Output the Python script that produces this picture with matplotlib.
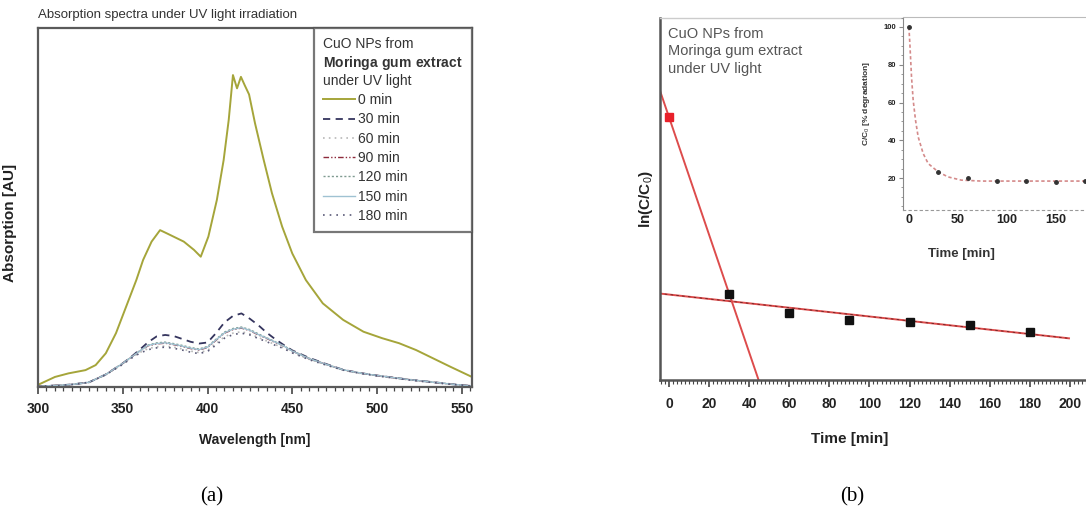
import numpy as np
import matplotlib
matplotlib.use("Agg")
import matplotlib.pyplot as plt
from matplotlib.ticker import MultipleLocator

plt.rcParams['font.family'] = ['Liberation Sans', 'DejaVu Sans']
plt.rcParams['mathtext.fontset'] = 'custom'
plt.rcParams['mathtext.bf'] = 'Liberation Sans:bold'
plt.rcParams['mathtext.rm'] = 'Liberation Sans'

# ---- (a) absorption spectra ----
wl0 = [300, 310, 318, 328, 334, 340, 346, 352, 358, 362, 367, 372, 376, 386, 392, 396,
       400.5, 405.5, 409.5, 412.5, 415, 417.4, 419.7, 422, 424.5, 428, 433, 438, 444,
       450, 458, 468, 480, 492, 503, 513, 523, 533, 543, 556]
abs0 = [0.006, 0.028, 0.038, 0.047, 0.061, 0.094, 0.150, 0.224, 0.298, 0.354, 0.405,
        0.437, 0.428, 0.405, 0.382, 0.363, 0.419, 0.521, 0.632, 0.744, 0.869, 0.832,
        0.864, 0.840, 0.815, 0.735, 0.635, 0.540, 0.447, 0.372, 0.298, 0.233, 0.187,
        0.154, 0.136, 0.122, 0.103, 0.080, 0.057, 0.028]

wl = [300, 310, 320, 330, 340, 350, 355, 360, 365, 370, 375, 380, 385, 390, 395, 400,
      405, 410, 415, 420, 425, 430, 435, 440, 445, 450, 460, 470, 480, 490, 500, 510,
      520, 530, 540, 550, 556]
abs30 = [0.002, 0.004, 0.007, 0.013, 0.035, 0.066, 0.084, 0.104, 0.125, 0.141, 0.145,
         0.142, 0.134, 0.126, 0.121, 0.124, 0.150, 0.180, 0.198, 0.205, 0.190, 0.172,
         0.151, 0.133, 0.117, 0.102, 0.081, 0.064, 0.048, 0.039, 0.032, 0.026, 0.020,
         0.015, 0.010, 0.005, 0.003]
abs60 = [0.002, 0.004, 0.007, 0.013, 0.034, 0.064, 0.081, 0.096, 0.107, 0.112, 0.114,
         0.111, 0.106, 0.100, 0.096, 0.102, 0.121, 0.140, 0.150, 0.154, 0.148, 0.138,
         0.128, 0.118, 0.109, 0.096, 0.077, 0.062, 0.047, 0.038, 0.031, 0.025, 0.019,
         0.014, 0.009, 0.005, 0.003]
abs90 = [0.002, 0.004, 0.007, 0.013, 0.035, 0.066, 0.083, 0.100, 0.115, 0.120, 0.122,
         0.118, 0.113, 0.107, 0.103, 0.110, 0.130, 0.150, 0.160, 0.164, 0.157, 0.145,
         0.135, 0.124, 0.114, 0.100, 0.079, 0.063, 0.048, 0.039, 0.032, 0.026, 0.020,
         0.015, 0.010, 0.005, 0.003]
abs120 = [0.002, 0.004, 0.007, 0.013, 0.035, 0.066, 0.084, 0.101, 0.117, 0.123, 0.125,
          0.121, 0.116, 0.110, 0.106, 0.113, 0.133, 0.153, 0.163, 0.167, 0.160, 0.148,
          0.137, 0.126, 0.115, 0.101, 0.080, 0.063, 0.048, 0.039, 0.032, 0.026, 0.020,
          0.015, 0.010, 0.005, 0.003]
abs150 = [0.002, 0.004, 0.007, 0.013, 0.035, 0.066, 0.083, 0.100, 0.116, 0.121, 0.123,
          0.119, 0.114, 0.108, 0.104, 0.111, 0.131, 0.151, 0.161, 0.165, 0.158, 0.146,
          0.136, 0.125, 0.114, 0.100, 0.079, 0.063, 0.048, 0.039, 0.032, 0.026, 0.020,
          0.015, 0.010, 0.005, 0.003]
abs180 = [0.002, 0.004, 0.007, 0.013, 0.034, 0.063, 0.080, 0.094, 0.104, 0.109, 0.111,
          0.108, 0.103, 0.097, 0.093, 0.099, 0.117, 0.136, 0.146, 0.150, 0.145, 0.135,
          0.126, 0.116, 0.107, 0.095, 0.076, 0.061, 0.047, 0.038, 0.031, 0.025, 0.019,
          0.014, 0.009, 0.005, 0.003]

# ---- (b) kinetics ----
t_min = [0, 30, 60, 90, 120, 150, 180]
ln_ratio = [0.0, -1.47, -1.63, -1.69, -1.71, -1.73, -1.79]
pct_left = [100, 23.3, 19.8, 18.5, 18.5, 17.7, 18.3]
curve_t = [0, 1, 2.7, 4.4, 6.8, 9.5, 14.6, 19.7, 29.9, 40, 53.5, 74, 100, 140, 181]
curve_pct = [100, 91.2, 73.5, 61.2, 50.6, 41.8, 33.0, 27.7, 23.3, 20.6, 18.9, 18.4,
             18.4, 18.4, 18.4]

fig = plt.figure(figsize=(10.86, 5.21), dpi=100)

# ================= panel (a) =================
ax = fig.add_axes([0.035, 0.2572, 0.3996, 0.689])
ax.plot(wl0, abs0, color='#a5a53a', lw=1.4, label='0 min')
ax.plot(wl, abs30, color='#35355e', lw=1.3, ls=(0, (4, 3)), label='30 min')
ax.plot(wl, abs60, color='#b8b8b8', lw=1.2, ls=(0, (1, 2.5)), label='60 min')
ax.plot(wl, abs90, color='#8e2a3c', lw=1.0, ls=(0, (4, 1.5, 1, 1.5, 1, 1.5)), label='90 min')
ax.plot(wl, abs120, color='#7f9a90', lw=1.0, ls=(0, (1.5, 1.5)), label='120 min')
ax.plot(wl, abs150, color='#9fc2d2', lw=1.0, label='150 min')
ax.plot(wl, abs180, color='#5a5a78', lw=1.2, ls=(0, (1, 3)), label='180 min')

ax.set_xlim(300, 556)
ax.set_ylim(0, 1)
ax.set_yticks([])
ax.xaxis.set_major_locator(MultipleLocator(50))
ax.xaxis.set_minor_locator(MultipleLocator(5))
ax.tick_params(axis='x', which='major', direction='out', length=5, width=1.2,
               colors='#444444', labelcolor='#222222', pad=6)
ax.tick_params(axis='x', which='minor', direction='out', length=3, width=0.9, colors='#444444')
for lab in ax.get_xticklabels():
    lab.set_fontweight('bold')
    lab.set_fontsize(10)
for s in ax.spines.values():
    s.set_color('#5a5a5a')
    s.set_linewidth(1.6)

ax.set_xlabel('Wavelength [nm]', fontsize=10, fontweight='bold', color='#222222')
ax.xaxis.set_label_coords(0.5, -0.127)
ax.set_ylabel('Absorption [AU]', fontsize=11, fontweight='bold', color='#222222')
ax.yaxis.set_label_coords(-0.048, 0.457)
ax.text(0.0, 1.02, 'Absorption spectra under UV light irradiation', transform=ax.transAxes,
        fontsize=9.5, color='#333333', ha='left', va='bottom')

leg = ax.legend(loc='upper right', bbox_to_anchor=(1.0, 1.0), borderaxespad=0,
                fontsize=10, frameon=True, fancybox=False, handlelength=2.3,
                handletextpad=0.2, labelspacing=0.38, borderpad=0.65,
                title='CuO NPs from\n$\\bf{Moringa\\ gum\\ extract}$\nunder UV light',
                title_fontsize=10, alignment='left')
leg.get_frame().set_edgecolor('#555555')
leg.get_frame().set_linewidth(1.6)
for txt in leg.get_texts():
    txt.set_color('#333333')
leg.get_title().set_color('#333333')

# ================= panel (b) =================
bx = fig.add_axes([0.6077, 0.2706, 0.3923, 0.6948])
steep = np.polyfit(t_min[:2], ln_ratio[:2], 1)
flat = np.polyfit(t_min[1:], ln_ratio[1:], 1)
xs = np.array([-5, 60])
bx.plot(xs, np.polyval(steep, xs), color='#dd4c4c', lw=1.4)
xf = np.array([-5, 199.5])
bx.plot(xf, np.polyval(flat, xf), color='#dd4c4c', lw=1.4)
bx.plot(xf, np.polyval(flat, xf), color='#6a2020', lw=0.6, ls=(0, (3, 4)))
bx.plot(t_min[1:], ln_ratio[1:], 's', color='#111111', ms=5.5)
bx.plot(t_min[:1], ln_ratio[:1], 's', color='#e8202a', ms=5.5)

bx.set_xlim(-4.5, 208)
bx.set_ylim(-2.19, 0.825)
bx.set_yticks([])
bx.xaxis.set_major_locator(MultipleLocator(20))
bx.xaxis.set_minor_locator(MultipleLocator(2))
bx.tick_params(axis='x', which='major', direction='out', length=5, width=1.2,
               colors='#444444', labelcolor='#222222', pad=7)
bx.tick_params(axis='x', which='minor', direction='out', length=3, width=0.8, colors='#444444')
for lab in bx.get_xticklabels():
    lab.set_fontweight('bold')
    lab.set_fontsize(10)
bx.spines['right'].set_visible(False)
bx.spines['top'].set_color('#cccccc')
bx.spines['top'].set_linewidth(1.0)
bx.spines['left'].set_color('#555555')
bx.spines['left'].set_linewidth(1.8)
bx.spines['bottom'].set_color('#555555')
bx.spines['bottom'].set_linewidth(1.8)
bx.set_xlabel('Time [min]', fontsize=11, fontweight='bold', color='#222222')
bx.xaxis.set_label_coords(0.446, -0.143)
bx.set_ylabel('ln(C/C$_0$)', fontsize=11, fontweight='bold', color='#222222')
bx.yaxis.set_label_coords(-0.012, 0.5)
bx.text(0.018, 0.975, 'CuO NPs from\nMoringa gum extract\nunder UV light',
        transform=bx.transAxes, fontsize=10.5, color='#555555', ha='left', va='top',
        linespacing=1.3)

# inset
ix = fig.add_axes([0.8315, 0.597, 0.1685, 0.3704])
ix.plot(curve_t, curve_pct, color='#d48a8a', lw=1.2, ls=(0, (2, 1.5)))
ix.plot(t_min, pct_left, 'o', color='#333333', ms=2.5)
ix.set_xlim(-6, 181)
ix.set_ylim(3.1, 105.3)
ix.set_xticks([0, 50, 100, 150])
ix.set_yticks([20, 40, 60, 80, 100])
ix.yaxis.set_minor_locator(MultipleLocator(5))
ix.tick_params(axis='x', length=0, pad=3, labelsize=9, labelcolor='#222222')
ix.tick_params(axis='y', which='major', length=3, width=0.8, pad=2, labelsize=5.5,
               colors='#888888', labelcolor='#222222')
ix.tick_params(axis='y', which='minor', length=1.5, width=0.6, colors='#888888')
for lab in ix.get_xticklabels() + ix.get_yticklabels():
    lab.set_fontweight('bold')
ix.spines['right'].set_visible(False)
ix.spines['top'].set_color('#bbbbbb')
ix.spines['left'].set_color('#888888')
ix.spines['left'].set_linestyle((0, (2, 1)))
ix.spines['bottom'].set_color('#999999')
ix.spines['bottom'].set_linestyle((0, (2, 3)))
ix.set_xlabel('Time [min]', fontsize=9.5, fontweight='bold', color='#333333')
ix.xaxis.set_label_coords(0.322, -0.197)
ix.set_ylabel('C/C$_0$ [% degradation]', fontsize=6, fontweight='bold', color='#333333')
ix.yaxis.set_label_coords(-0.17, 0.55)

fig.text(0.195, 0.046, '(a)', fontsize=15, family=['Liberation Serif', 'DejaVu Serif'],
         ha='center', va='center')
fig.text(0.785, 0.046, '(b)', fontsize=15, family=['Liberation Serif', 'DejaVu Serif'],
         ha='center', va='center')

fig.savefig('out.png', dpi=100)
